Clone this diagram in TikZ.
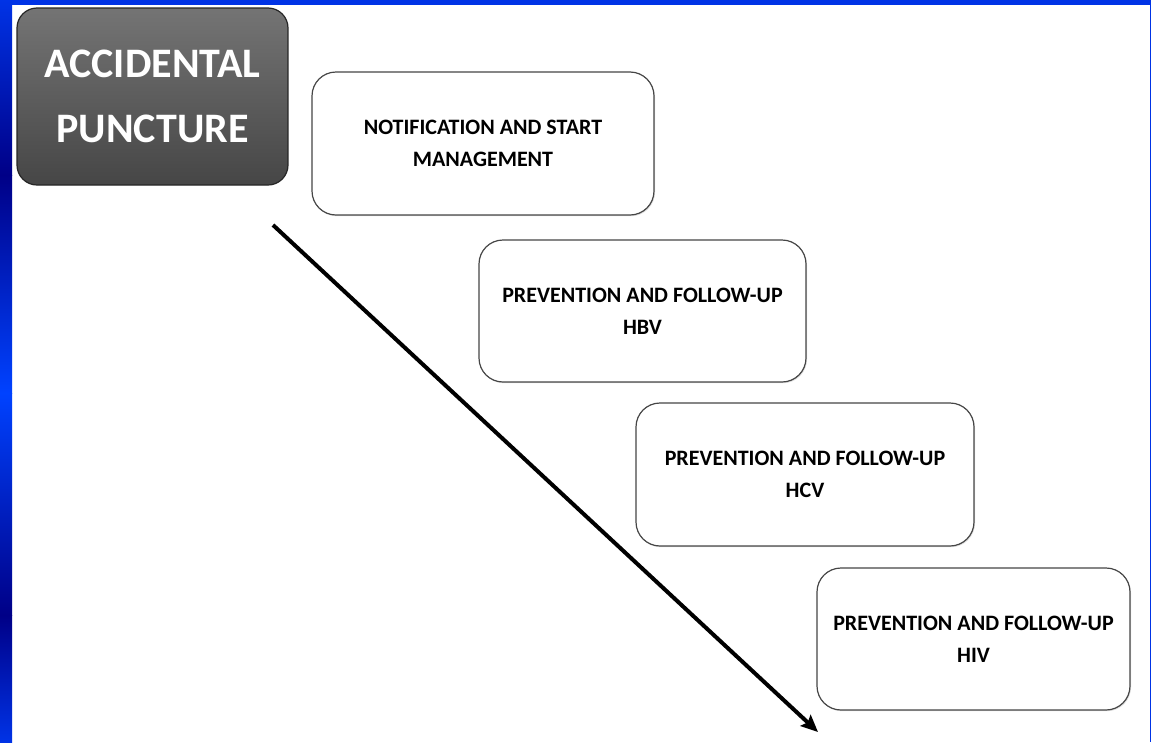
\documentclass[tikz,border=0pt]{standalone}
\usepackage{fontspec}
\setmainfont{Carlito}
\usetikzlibrary{arrows.meta,shadows}
\definecolor{frameblue}{RGB}{0,51,230}
\definecolor{framenavy}{RGB}{0,0,135}
\definecolor{framebright}{RGB}{0,66,255}
\definecolor{titletop}{RGB}{116,116,116}
\definecolor{titlebot}{RGB}{70,70,70}
\definecolor{boxline}{RGB}{70,70,70}
\tikzset{
  titlebox/.style={draw=black!85, line width=1.2pt, rounded corners=20pt,
    top color=titletop, bottom color=titlebot, text=white, align=center,
    inner sep=0pt, font=\bfseries\fontsize{42}{65}\selectfont},
  stepbox/.style={draw=boxline, line width=1.2pt, rounded corners=24pt, fill=white,
    align=center, inner sep=0pt, font=\bfseries\fontsize{22}{32}\selectfont,
    drop shadow={shadow xshift=1pt, shadow yshift=-1.2pt, opacity=0.25}},
  bigarrow/.style={line width=4pt, -{Stealth[length=17pt,width=15pt,inset=3pt]}}
}
\begin{document}
\begin{tikzpicture}[x=1pt,y=-1pt]
\useasboundingbox (0,0) rectangle (1151,742);
\fill[white] (0,0) rectangle (1151,742);
\fill[frameblue] (0,0) rectangle (1151,5);
\fill[frameblue] (1149.5,0) rectangle (1151,742);
\shade[top color=frameblue, bottom color=framenavy] (0,0) rectangle (12,175);
\shade[top color=framenavy, bottom color=framebright] (0,175) rectangle (12,393);
\shade[top color=framebright, bottom color=framenavy] (0,393) rectangle (12,615);
\shade[top color=framenavy, bottom color=frameblue] (0,615) rectangle (12,742);

\node[titlebox, minimum width=271pt, minimum height=177pt] (acc) at (152.5,96.5)
  {ACCIDENTAL\\PUNCTURE};
\node[stepbox, minimum width=342pt, minimum height=143pt] (notif) at (483,143.5)
  {NOTIFICATION AND START\\MANAGEMENT};
\node[stepbox, minimum width=327pt, minimum height=142pt] (hbv) at (642.5,311)
  {PREVENTION AND FOLLOW-UP\\HBV};
\node[stepbox, minimum width=338pt, minimum height=143pt] (hcv) at (805,474.5)
  {PREVENTION AND FOLLOW-UP\\HCV};
\node[stepbox, minimum width=313pt, minimum height=142pt] (hiv) at (973.5,639)
  {PREVENTION AND FOLLOW-UP\\HIV};

\coordinate (astart) at (273,225);
\coordinate (aend) at (818,732);
\draw[bigarrow] (astart) -- (aend);
\end{tikzpicture}
\end{document}
